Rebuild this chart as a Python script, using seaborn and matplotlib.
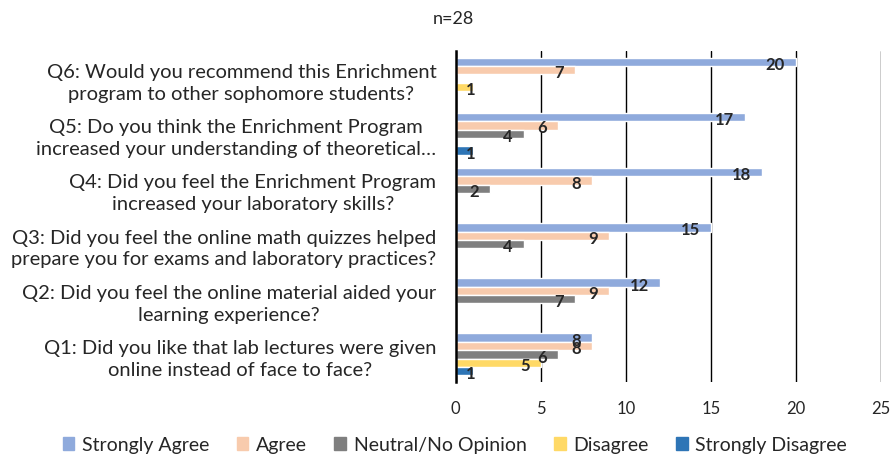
#Survey responses - grouped horizontal bar chart
import numpy as np
import pandas as pd
import matplotlib.pyplot as plt
import seaborn as sns

questions = [
    "Q6: Would you recommend this Enrichment\nprogram to other sophomore students?",
    "Q5: Do you think the Enrichment Program\nincreased your understanding of theoretical…",
    "Q4: Did you feel the Enrichment Program\nincreased your laboratory skills?",
    "Q3: Did you feel the online math quizzes helped\nprepare you for exams and laboratory practices?",
    "Q2: Did you feel the online material aided your\nlearning experience?",
    "Q1: Did you like that lab lectures were given\nonline instead of face to face?",
]
responses = ["Strongly Agree", "Agree", "Neutral/No Opinion", "Disagree", "Strongly Disagree"]

strongly_agree = [20, 17, 18, 15, 12, 8]
agree = [7, 6, 8, 9, 9, 8]
neutral = [0, 4, 2, 4, 7, 6]
disagree = [1, 0, 0, 0, 0, 5]
strongly_disagree = [0, 1, 0, 0, 0, 1]

colors = ["#8FAADC", "#F8CBAD", "#7F7F7F", "#FFD966", "#2E75B6"]

#long format table for seaborn
rows = []
for resp, vals in zip(responses, [strongly_agree, agree, neutral, disagree, strongly_disagree]):
    for q, v in zip(questions, vals):
        rows.append({"question": q, "response": resp, "count": v})
df = pd.DataFrame(rows)

sns.set_style("white")
plt.rcParams['font.family'] = ['Lato', 'DejaVu Sans']

fig = plt.figure(figsize=(8.92, 4.56), dpi=100)
ax = fig.add_axes([0.511, 0.160, 0.477, 0.726])

sns.barplot(data=df, y="question", x="count", hue="response", order=questions,
            hue_order=responses, palette=colors, orient="h", width=0.76,
            saturation=1, ax=ax, legend=False)

#value labels (only non-zero bars)
for container, resp in zip(ax.containers, responses):
    for bar in container:
        v = bar.get_width()
        if v <= 0:
            continue
        yc = bar.get_y() + bar.get_height() / 2
        off = 2 if v <= 1 else -8
        ax.annotate(f"{int(v)}", (v, yc), xytext=(off, -1.5), textcoords="offset points",
                    ha="right", va="center", fontsize=12, fontweight="bold")

ax.set_xlim(0, 25)
ax.set_xticks([0, 5, 10, 15, 20, 25])
ax.set_yticks(range(len(questions)))
ax.set_yticklabels(questions, fontsize=14.5, linespacing=1.35, multialignment="center")
ax.grid(axis="x", color="black", linewidth=1)
ax.set_axisbelow(True)
for s in ["top", "right", "bottom"]:
    ax.spines[s].set_visible(False)
ax.spines["left"].set_color("black")
ax.spines["left"].set_linewidth(1.8)
ax.tick_params(axis="both", length=0)
ax.tick_params(axis="x", labelsize=12, pad=13)
ax.tick_params(axis="y", pad=14)
ax.set_xlabel("")
ax.set_ylabel("")

fig.suptitle("n=28", x=0.508, y=0.975, fontsize=13)

handles = [plt.Rectangle((0, 0), 1, 1, color=c) for c in colors]
fig.legend(handles, responses, loc="lower center", bbox_to_anchor=(0.51, -0.035), ncol=5,
           frameon=False, fontsize=14, handlelength=0.6, handleheight=0.6,
           handletextpad=0.4, columnspacing=1.4)

plt.savefig("out.png", dpi=100)
plt.close()
